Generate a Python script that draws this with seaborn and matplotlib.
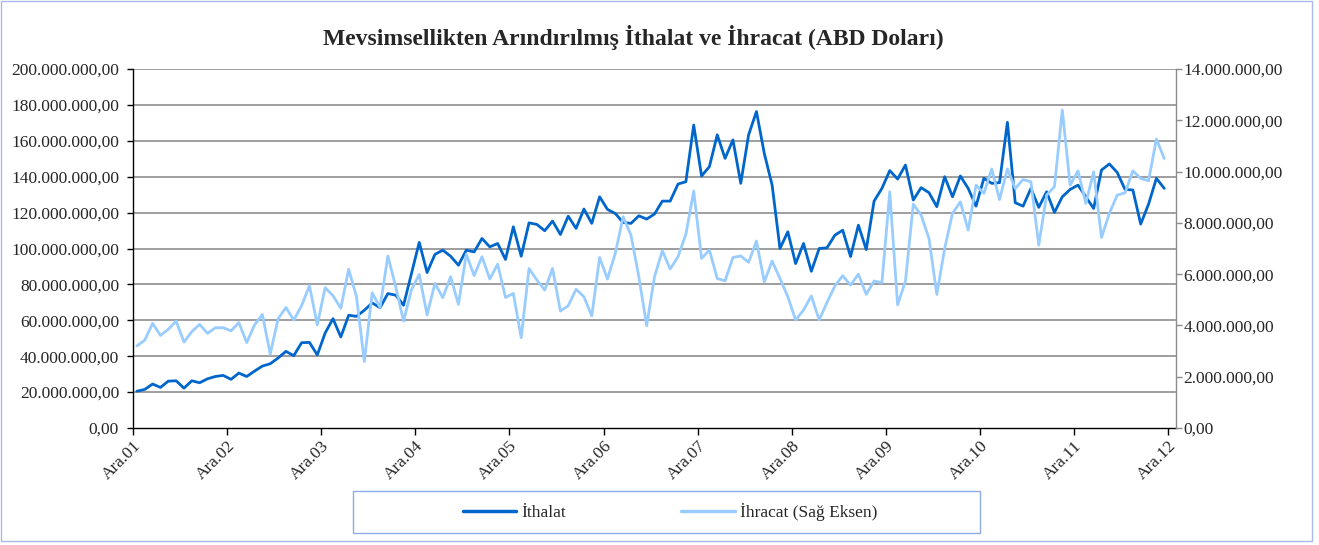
import numpy as np
import pandas as pd
import matplotlib
matplotlib.use("Agg")
import matplotlib.pyplot as plt
import seaborn as sns
from matplotlib.ticker import FuncFormatter, MultipleLocator, FixedLocator
from matplotlib.patches import Rectangle
from matplotlib.lines import Line2D

sns.set_theme(style="white")
plt.rcParams["font.family"] = ["Liberation Serif", "DejaVu Serif"]

title = "Mevsimsellikten Arındırılmış İthalat ve İhracat (ABD Doları)"
tick_labels = ["Ara.01", "Ara.02", "Ara.03", "Ara.04", "Ara.05", "Ara.06",
               "Ara.07", "Ara.08", "Ara.09", "Ara.10", "Ara.11", "Ara.12"]
series_names = ["İthalat", "İhracat (Sağ Eksen)"]

# İthalat (million USD, left axis)
ithalat = [20.5, 21.5, 24.5, 22.6, 26.1, 26.3, 22.2, 26.3, 25.2, 27.4, 28.7, 29.3,
           27.1, 30.6, 28.7, 31.7, 34.5, 35.8, 39.0, 42.7, 40.3, 47.5, 47.7, 40.7,
           52.9, 60.9, 50.7, 62.8, 62.2, 65.6, 69.7, 67.0, 74.9, 74.0, 68.4, 86.0,
           103.4, 86.6, 96.7, 99.1, 95.7, 90.7, 99.1, 98.1, 105.6, 100.9, 102.8, 93.9,
           112.1, 95.7, 114.3, 113.4, 109.9, 115.3, 107.8, 118.0, 111.2, 122.0, 114.0, 128.8,
           121.8, 119.5, 114.5, 114.0, 118.2, 116.4, 119.2, 126.4, 126.4, 135.9, 137.2, 168.8,
           140.4, 145.6, 163.3, 150.2, 160.5, 136.3, 163.3, 176.3, 153.0, 135.3, 100.0, 109.3,
           91.6, 102.8, 87.3, 100.0, 100.4, 107.4, 110.2, 95.5, 113.0, 99.4, 126.4, 133.5,
           143.4, 138.7, 146.5, 127.0, 133.9, 131.1, 123.3, 140.0, 128.8, 140.4, 133.5, 123.6,
           139.1, 136.3, 136.7, 170.3, 125.5, 123.6, 133.5, 122.9, 131.6, 120.1, 128.8, 132.9,
           135.3, 128.8, 122.3, 143.7, 147.1, 142.4, 132.9, 132.6, 113.6, 124.7, 139.1, 133.5]

# İhracat (million USD, right axis)
ihracat = [3.20, 3.43, 4.08, 3.61, 3.85, 4.17, 3.35, 3.76, 4.04, 3.69, 3.91, 3.91,
           3.79, 4.11, 3.33, 4.02, 4.43, 2.88, 4.26, 4.70, 4.21, 4.77, 5.55, 4.02,
           5.47, 5.16, 4.67, 6.19, 5.12, 2.59, 5.27, 4.70, 6.71, 5.51, 4.17, 5.38,
           5.99, 4.41, 5.64, 5.08, 5.90, 4.82, 6.78, 5.94, 6.68, 5.81, 6.39, 5.09,
           5.25, 3.52, 6.22, 5.77, 5.38, 6.22, 4.56, 4.77, 5.41, 5.12, 4.37, 6.65,
           5.81, 6.81, 8.24, 7.52, 5.90, 3.99, 5.90, 6.91, 6.20, 6.68, 7.56, 9.24,
           6.61, 6.94, 5.83, 5.74, 6.65, 6.71, 6.46, 7.29, 5.70, 6.51, 5.83, 5.12,
           4.21, 4.60, 5.15, 4.21, 4.90, 5.54, 5.94, 5.57, 6.00, 5.21, 5.73, 5.67,
           9.21, 4.80, 5.73, 8.73, 8.30, 7.39, 5.21, 7.00, 8.37, 8.82, 7.72, 9.47,
           9.15, 10.10, 8.91, 10.10, 9.34, 9.69, 9.60, 7.13, 9.08, 9.41, 12.40, 9.47,
           10.03, 8.76, 9.99, 7.43, 8.37, 9.08, 9.17, 10.03, 9.73, 9.64, 11.27, 10.51]

n = len(ithalat)
df = pd.DataFrame({
    "ay": np.arange(n) + 0.5,
    "ithalat": np.array(ithalat) * 1e6,
    "ihracat": np.array(ihracat) * 1e6,
})

DARK = "#0066CC"
LIGHT = "#99CCFF"
W, H = 1319, 545

fig = plt.figure(figsize=(W / 100, H / 100), dpi=100)
fig.patch.set_facecolor("white")
ax = fig.add_axes([133 / W, 1 - 428 / H, (1176 - 133) / W, (428 - 69) / H])
ax2 = ax.twinx()

sns.lineplot(data=df, x="ay", y="ithalat", ax=ax, color=DARK, lw=2.0, legend=False)
sns.lineplot(data=df, x="ay", y="ihracat", ax=ax2, color=LIGHT, lw=2.0, legend=False)


def tr_fmt(v, pos):
    s = f"{v:,.2f}"
    return s.replace(",", "X").replace(".", ",").replace("X", ".")


ax.set_xlim(0, n + 1)
ax.set_ylim(0, 200e6)
ax2.set_ylim(0, 14e6)
ax.yaxis.set_major_locator(MultipleLocator(20e6))
ax2.yaxis.set_major_locator(MultipleLocator(2e6))
ax.yaxis.set_major_formatter(FuncFormatter(tr_fmt))
ax2.yaxis.set_major_formatter(FuncFormatter(tr_fmt))

ax.xaxis.set_major_locator(FixedLocator([12 * k for k in range(len(tick_labels))]))
ax.set_xticklabels(tick_labels, rotation=45, ha="right", va="top", rotation_mode="anchor")

ax.set_xlabel("")
ax.set_ylabel("")
ax2.set_ylabel("")

ax.grid(False)
ax2.grid(False)
for v in np.arange(20e6, 200.1e6, 20e6):
    ax.axhline(v, color="#848484", lw=1.1, zorder=0.5)

for s in ["top", "right"]:
    ax.spines[s].set_visible(False)
for s in ["top", "left", "bottom"]:
    ax2.spines[s].set_visible(False)
ax.spines["left"].set_color("black")
ax.spines["bottom"].set_color("black")
ax.spines["left"].set_linewidth(1.0)
ax.spines["bottom"].set_linewidth(1.0)
ax2.spines["right"].set_color("#8c8c8c")
ax2.spines["right"].set_linewidth(1.0)

ax.tick_params(axis="y", direction="out", length=4, width=1, color="black",
               labelsize=12.5, pad=6, left=True)
ax.tick_params(axis="x", direction="out", length=5, width=1, color="black",
               labelsize=12.5, pad=2, bottom=True)
ax2.tick_params(axis="y", direction="out", length=4, width=1, color="#8c8c8c",
                labelsize=12.5, pad=1.5, right=True)

fig.text(633 / W, 1 - 37 / H, title, ha="center", va="center",
         fontsize=17, fontweight="bold")

# outer chart border
fig.patches.append(Rectangle((1 / W, 4 / H), 1311 / W, 540 / H, transform=fig.transFigure,
                             fill=False, edgecolor="#A9B8E6", lw=1.0))
# legend box
fig.patches.append(Rectangle((353 / W, 1 - 533 / H), 627 / W, 42 / H, transform=fig.transFigure,
                             fill=False, edgecolor="#8FA9EE", lw=1.0))

handles = [Line2D([], [], color=DARK, lw=2.5), Line2D([], [], color=LIGHT, lw=2.5)]
fig.legend(handles, series_names, loc="center", bbox_to_anchor=(670 / W, 1 - 512 / H),
           ncol=2, frameon=False, handlelength=3.1, handletextpad=0.3,
           columnspacing=6.6, fontsize=12.5)

fig.savefig("out.png", dpi=100, facecolor="white")
